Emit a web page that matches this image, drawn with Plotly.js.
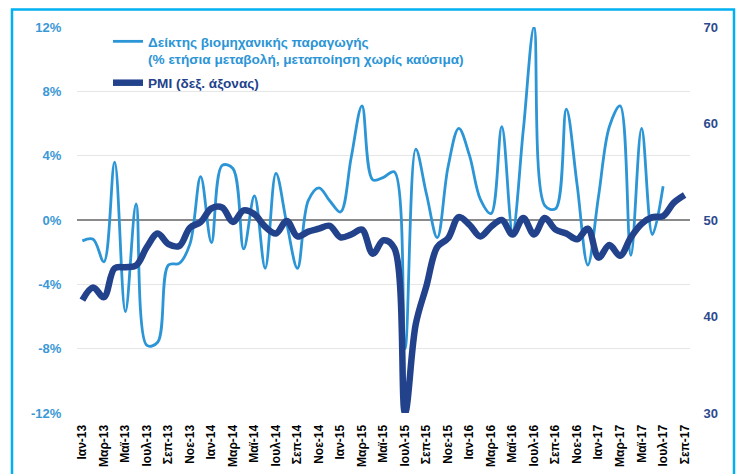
<!DOCTYPE html>
<html><head><meta charset="utf-8">
<script src="https://cdn.plot.ly/plotly-3.0.1.min.js"></script>
<style>html,body{margin:0;padding:0;background:#fff}#chart{width:736px;height:474px}</style>
</head><body><div id="chart"></div><script>
const months = [
 'Ιαν-13','Φεβ-13','Μαρ-13','Απρ-13','Μαϊ-13','Ιουν-13','Ιουλ-13','Αυγ-13','Σεπ-13','Οκτ-13','Νοε-13','Δεκ-13',
 'Ιαν-14','Φεβ-14','Μαρ-14','Απρ-14','Μαϊ-14','Ιουν-14','Ιουλ-14','Αυγ-14','Σεπ-14','Οκτ-14','Νοε-14','Δεκ-14',
 'Ιαν-15','Φεβ-15','Μαρ-15','Απρ-15','Μαϊ-15','Ιουν-15','Ιουλ-15','Αυγ-15','Σεπ-15','Οκτ-15','Νοε-15','Δεκ-15',
 'Ιαν-16','Φεβ-16','Μαρ-16','Απρ-16','Μαϊ-16','Ιουν-16','Ιουλ-16','Αυγ-16','Σεπ-16','Οκτ-16','Νοε-16','Δεκ-16',
 'Ιαν-17','Φεβ-17','Μαρ-17','Απρ-17','Μαϊ-17','Ιουν-17','Ιουλ-17','Αυγ-17','Σεπ-17'
];
// Industrial production index, % y/y (left axis), Jan-13 .. Jul-17
const industrialProduction = [
 -1.3, -1.2, -2.6, 3.6, -5.7, 1.0, -7.8, -7.6, -2.8, -2.7, -1.5, 2.7,
 -1.4, 3.4, 3.2, -1.8, 1.5, -3.0, 2.9, -0.2, -3.0, 1.2, 2.0, 1.2,
 0.5, 3.9, 7.1, 2.5, 2.65, 3.0, -8.0, 4.4, 1.6, -1.1, 3.3, 5.7,
 4.0, 1.3, 0.4, 5.8, -0.7, 5.6, 12.0, 0.9, 0.7, 6.9, 2.2, -2.8,
 1.5, 5.8, 7.1, -2.2, 5.7, -0.9, 2.1
];
// PMI (right axis), Jan-13 .. Sep-17
const pmi = [
 41.7, 43.0, 42.0, 45.0, 45.1, 45.3, 47.2, 48.6, 47.5, 47.3, 49.2, 49.8,
 51.2, 51.3, 49.8, 51.0, 50.6, 49.3, 48.6, 49.9, 48.3, 48.8, 49.1, 49.4,
 48.2, 48.5, 49.0, 46.5, 47.9, 47.1, 30.0, 39.2, 43.2, 47.2, 48.1, 50.3,
 49.5, 48.3, 49.3, 50.0, 48.5, 50.2, 48.5, 50.2, 49.0, 48.6, 48.0, 49.1,
 46.1, 47.4, 46.3, 48.2, 49.6, 50.3, 50.4, 51.8, 52.6
];
const xTickLabels = months.filter((m, i) => i % 2 === 0);
const leftTicks = [-12, -8, -4, 0, 4, 8, 12];
const rightTicks = [30, 40, 50, 60, 70];

const lightBlue = '#2b95d6';
const navy = '#22428c';
const font = 'Liberation Sans, Arial, sans-serif';

const traces = [
 {
  x: months, y: pmi, yaxis: 'y2', type: 'scatter', mode: 'lines',
  name: '<span style="color:' + navy + '">PMI (δεξ. άξονας)</span>',
  line: {color: navy, width: 6.5, shape: 'spline', smoothing: 1},
  legendrank: 2, legendgroup: 'b', hoverinfo: 'skip'
 },
 {
  x: months.slice(0, industrialProduction.length), y: industrialProduction, yaxis: 'y', type: 'scatter', mode: 'lines',
  name: '<span style="color:' + lightBlue + '">Δείκτης βιομηχανικής παραγωγής<br>(% ετήσια μεταβολή, μεταποίηση χωρίς καύσιμα)</span>',
  line: {color: lightBlue, width: 2.8, shape: 'spline', smoothing: 1},
  legendrank: 1, legendgroup: 'a', hoverinfo: 'skip'
 }
];

const W = 613, H = 386, L = 77, T = 27;
const px = v => (v - L) / W;
const py = v => (T + H - v) / H;

const layout = {
 width: 736, height: 474,
 margin: {l: L, r: 736 - L - W, t: T, b: 474 - T - H},
 paper_bgcolor: '#ffffff', plot_bgcolor: '#ffffff',
 font: {family: font, size: 13, color: '#000'},
 showlegend: true,
 legend: {
  x: px(108), y: py(26), xanchor: 'left', yanchor: 'top',
  bgcolor: 'rgba(0,0,0,0)', traceorder: 'grouped', tracegroupgap: 3,
  valign: 'top',
  font: {family: font, size: 13.6, weight: 'bold'}
 },
 xaxis: {
  type: 'category', range: [-0.5, months.length - 0.5],
  tickmode: 'array', tickvals: xTickLabels, ticktext: xTickLabels,
  tickangle: -90, ticks: 'outside', ticklen: 6, tickcolor: 'rgba(0,0,0,0)',
  tickfont: {family: font, size: 12, weight: 'bold', color: '#000'},
  showgrid: false, showline: false, zeroline: false, fixedrange: true
 },
 yaxis: {
  range: [-12, 12], tickmode: 'array', tickvals: leftTicks,
  ticktext: leftTicks.map(v => v + '%'),
  ticks: 'outside', ticklen: 12, tickcolor: 'rgba(0,0,0,0)',
  tickfont: {family: font, size: 13, weight: 'bold', color: '#3b98d6'},
  showgrid: true, gridcolor: '#e6e6e6', gridwidth: 1.2,
  zeroline: true, zerolinecolor: '#8a8a8a', zerolinewidth: 1.5,
  showline: false, fixedrange: true
 },
 yaxis2: {
  overlaying: 'y', side: 'right', range: [30, 70],
  tickmode: 'array', tickvals: rightTicks, ticktext: rightTicks.map(String),
  ticks: 'outside', ticklen: 10, tickcolor: 'rgba(0,0,0,0)',
  tickfont: {family: font, size: 13, weight: 'bold', color: '#2c4a8e'},
  showgrid: false, zeroline: false, showline: false, fixedrange: true
 },
 shapes: [{
  type: 'rect', xref: 'paper', yref: 'paper', layer: 'above',
  x0: px(12), x1: px(734), y0: py(490), y1: py(9.5),
  line: {color: '#00b0f0', width: 2.5}, fillcolor: 'rgba(0,0,0,0)'
 }]
};

Plotly.newPlot('chart', traces, layout, {staticPlot: true, displayModeBar: false});
</script></body></html>
